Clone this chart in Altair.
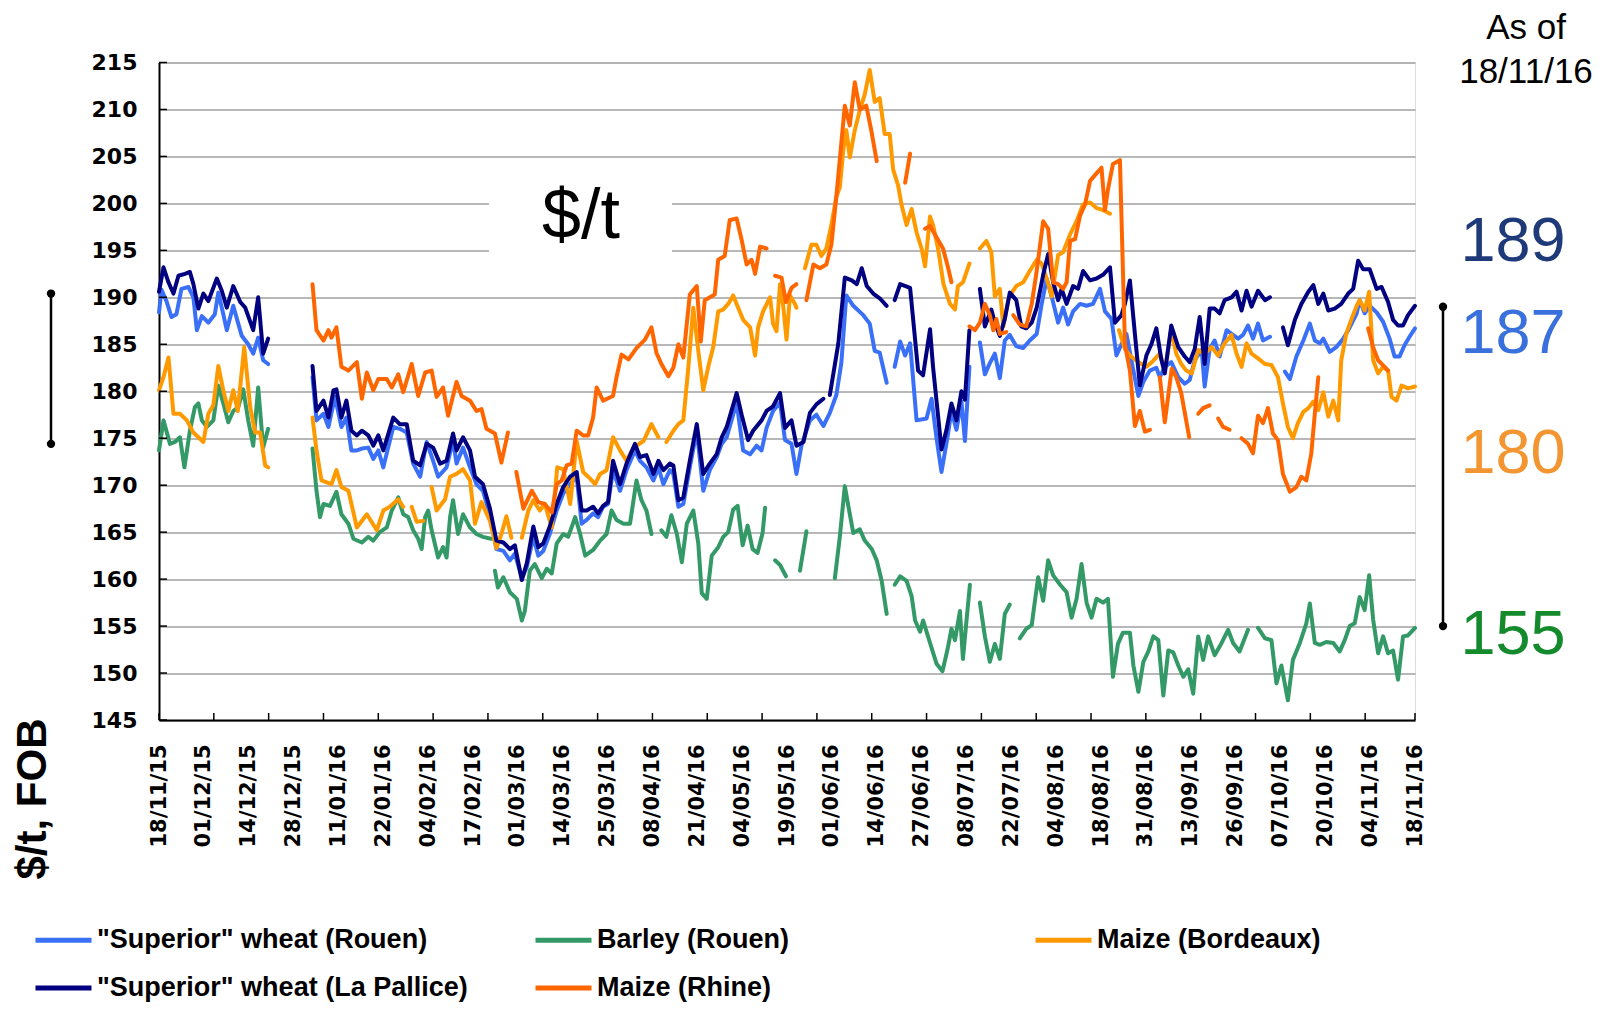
import altair as alt
import pandas as pd

DATES = ["18/11/15", "01/12/15", "14/12/15", "28/12/15", "11/01/16", "22/01/16", "04/02/16",
         "17/02/16", "01/03/16", "14/03/16", "25/03/16", "08/04/16", "21/04/16", "04/05/16",
         "19/05/16", "01/06/16", "14/06/16", "27/06/16", "08/07/16", "22/07/16", "04/08/16",
         "18/08/16", "31/08/16", "13/09/16", "26/09/16", "07/10/16", "20/10/16", "04/11/16",
         "18/11/16"]

# legend lays out column by column (2 rows): this order gives the reference rows
LEGEND_ORDER = ['"Superior" wheat (Rouen)', '"Superior" wheat (La Pallice)', 'Barley (Rouen)',
                'Maize (Rhine)', 'Maize (Bordeaux)']
LEGEND_COLORS = ['#3a6ff7', '#000080', '#339966', '#ff6600', '#ff9900']
# drawing order (later on top)
DRAW_ORDER = ['"Superior" wheat (Rouen)', 'Barley (Rouen)', 'Maize (Bordeaux)',
              '"Superior" wheat (La Pallice)', 'Maize (Rhine)']

# (trading-day index, $/t) ; None = gap in the series
ROUEN = [
    (0, 188.4), (0.5, 190.8), (1.5, 189.6), (2.5, 187.9), (3.5, 188.2), (4.5, 190.9), (5.9, 191.1), (6.9, 190.0),
    (7.6, 186.5), (8.6, 188.0), (9.9, 187.3), (11.2, 188.2), (11.9, 190.5), (12.9, 188.2), (13.6, 186.5),
    (14.9, 189.1), (15.9, 187.2), (16.6, 185.9), (17.9, 185.0), (18.9, 184.0), (19.9, 185.7), (20.9, 183.3),
    (21.9, 182.9),
    None,
    (30.8, 181.5), (31.6, 176.9), (33, 177.6), (34, 176.2), (35.3, 179.4), (36.6, 176.2), (37.6, 177.2),
    (38.6, 173.7), (39.7, 173.7), (40.7, 173.9), (42, 174.0), (43, 172.8), (44, 173.7), (45, 171.9), (47, 176.2),
    (48.3, 176.0), (49.7, 175.6), (51, 172.3), (52.4, 170.9), (53.7, 174.6), (55, 172.6), (56, 170.9),
    (57.7, 171.9), (59, 174.8), (59.7, 172.3), (61, 174.0), (62.4, 171.9), (63.7, 170.1), (65, 169.4),
    (66.4, 166.8), (67.7, 163.2), (69.1, 163.0), (70.4, 162.0), (71.4, 162.7), (72.8, 160.1), (73.8, 161.3),
    (75.1, 164.5), (76.1, 162.5), (77.1, 163.0), (78.4, 164.8), (79.8, 167.3), (81.1, 169.1), (82.5, 170.1),
    (83.8, 170.9), (84.8, 165.9), (85.8, 166.3), (87.1, 167.0), (88.1, 166.6), (89.1, 167.7), (90.1, 168.0),
    (91.1, 171.6), (92.5, 169.4), (93.8, 171.6), (95.5, 173.7), (96.5, 172.6), (97.8, 171.9), (99.2, 170.5),
    (100.2, 171.9), (101.2, 170.1), (102.5, 171.6), (103.2, 171.2), (104.2, 167.7), (105.2, 168.0),
    (106.5, 171.9), (107.9, 175.8), (109.2, 169.4), (110.5, 171.6), (111.9, 173.0), (112.9, 174.4),
    (113.9, 175.1), (115.9, 178.8), (117.2, 173.7), (118.6, 173.3), (119.9, 174.2), (120.9, 173.7),
    (121.9, 176.1), (123.2, 177.9), (124.6, 178.8), (125.6, 174.8), (126.9, 174.4), (127.9, 171.2),
    (128.9, 174.2), (130.6, 176.9), (131.9, 177.5), (133.3, 176.3), (134.6, 177.7), (135.9, 179.6),
    (136.9, 183.0), (137.9, 190.2), (139.3, 189.1), (141.3, 188.1), (142.6, 187.2), (143.6, 184.3),
    (144.6, 184.1), (146, 180.9),
    None,
    (147.6, 182.6), (148.7, 185.3), (149.7, 183.8), (150.7, 185.1), (152, 176.9), (154, 177.1), (155, 179.2),
    (156, 175.0), (157, 171.4), (158.2, 175.1), (159, 177.9), (160, 175.9), (161, 178.9), (161.7, 174.7),
    (162.6, 182.6),
    None,
    (164.7, 185.2), (165.7, 181.8), (166.7, 183.0), (167.7, 184.0), (168.7, 181.4), (169.7, 185.4),
    (170.7, 186.0), (172, 184.8), (173.4, 184.6), (174.7, 185.4), (176.1, 186.1), (177.1, 189.3),
    (178.1, 192.0), (179.1, 190.1), (180.4, 187.3), (181.4, 188.9), (182.4, 187.1), (183.4, 188.5),
    (184.8, 189.3), (186.1, 189.1), (187.4, 189.3), (188.8, 190.9), (189.8, 188.5), (191.1, 187.7),
    (192.1, 183.8), (193.1, 185.0), (194.1, 186.1), (195.5, 182.2), (196.5, 179.5), (197.5, 181.0),
    (198.8, 182.2), (200.1, 182.5), (200.8, 181.5), (201.8, 182.6), (203.1, 183.1), (204.5, 181.5),
    (205.8, 180.8), (206.8, 181.2), (207.8, 183.3), (209.2, 184.4), (209.8, 180.5), (210.8, 184.5),
    (211.8, 185.4), (212.8, 183.7), (214.2, 186.5), (215.2, 186.1), (216.5, 185.6), (217.5, 186.0),
    (218.5, 187.0), (219.5, 185.6), (220.5, 187.2), (221.5, 185.4), (222.9, 185.8),
    None,
    (225.9, 182.1), (226.9, 181.3), (228.2, 183.7), (229.6, 185.4), (230.9, 187.2), (231.9, 185.4),
    (232.9, 185.1), (233.6, 185.6), (234.9, 184.2), (236.2, 184.7), (237.6, 185.6), (238.9, 186.8),
    (240.3, 188.3), (240.9, 189.7), (241.9, 188.3), (242.9, 189.1), (244.3, 188.4), (245.6, 187.4),
    (246.9, 185.6), (247.9, 183.7), (248.9, 183.7), (249.9, 184.9), (250.9, 185.8), (252, 186.7),
]

PALLICE = [
    (0, 190.6), (0.9, 193.2), (1.9, 191.6), (2.9, 190.4), (3.9, 192.3), (5.2, 192.5), (6.2, 192.7), (6.9, 191.4),
    (7.9, 188.8), (8.9, 190.4), (9.9, 189.6), (11.6, 192.0), (12.6, 190.7), (13.6, 188.9), (14.9, 191.2),
    (16.3, 189.5), (17.3, 188.9), (18.9, 186.5), (19.9, 190.0), (20.9, 184.0), (21.9, 185.6),
    None,
    (30.8, 182.7), (31.6, 177.9), (33, 179.0), (34, 177.2), (35, 180.1), (35.6, 180.2), (36.6, 177.2),
    (37.6, 179.0), (38.6, 175.8), (39.7, 175.3), (40.7, 175.8), (42, 175.3), (43, 174.2), (44, 175.3),
    (45, 173.7), (47, 177.2), (48.3, 176.5), (49.7, 176.5), (51, 172.6), (52.4, 172.1), (53.7, 174.4),
    (55, 174.0), (56.4, 172.3), (57.7, 172.6), (59, 175.5), (59.7, 173.7), (61, 175.1), (62.4, 173.7),
    (63.4, 170.9), (65, 170.1), (66.4, 167.5), (67.7, 164.1), (69.1, 163.9), (70.4, 163.2), (71.4, 163.6),
    (72.8, 159.9), (73.8, 161.7), (75.1, 165.6), (76.1, 163.4), (77.1, 163.8), (78.4, 165.6), (79.8, 168.0),
    (81.1, 169.8), (82.5, 170.9), (83.8, 171.4), (84.8, 167.3), (85.8, 167.3), (87.1, 167.7), (88.1, 167.0),
    (89.1, 167.8), (90.1, 168.2), (91.1, 172.6), (92.5, 170.1), (93.8, 172.3), (95.5, 174.4), (96.5, 173.0),
    (97.8, 173.2), (99.2, 171.2), (100.2, 172.6), (101.2, 171.6), (102.5, 172.3), (103.2, 172.1),
    (104.2, 168.4), (105.2, 168.7), (106.5, 172.6), (107.9, 176.5), (109.2, 171.2), (110.5, 172.3),
    (111.9, 173.3), (112.9, 175.1), (113.9, 176.2), (115.9, 179.8), (116.9, 177.5), (118.2, 174.8),
    (119.2, 175.8), (120.9, 176.9), (121.9, 177.9), (123.2, 178.4), (124.6, 179.8), (125.6, 176.1),
    (126.9, 176.9), (127.9, 174.2), (129.3, 174.6), (130.6, 177.7), (131.9, 178.6), (133.3, 179.2),
    None,
    (134.6, 179.6), (136.3, 185.1), (137.6, 192.1), (139, 191.8), (140, 191.4), (141, 193.1), (142, 191.2),
    (143.3, 190.4), (144.6, 189.9), (146, 189.1),
    None,
    (147.6, 189.7), (148.7, 191.4), (150.7, 191.0), (152.3, 182.2), (153.3, 181.7), (154.7, 186.6),
    (155.3, 182.6), (157, 173.8), (158, 175.9), (159, 178.7), (160, 176.9), (161, 180.0), (161.7, 179.1),
    (162.6, 186.5),
    None,
    (164.7, 190.9), (165.7, 186.9), (167, 188.7), (167.7, 187.3), (168.7, 185.9), (169.7, 187.7),
    (170.7, 190.5), (172, 189.7), (173, 186.9), (174, 186.7), (175.1, 187.3), (176.1, 188.9), (177.4, 192.4),
    (178.4, 194.6), (179.4, 191.6), (180.4, 189.7), (181.1, 190.9), (182.1, 189.3), (183.4, 191.2),
    (184.4, 190.9), (185.4, 192.8), (186.8, 191.8), (188.1, 192.0), (189.4, 192.4), (190.8, 193.2),
    (191.8, 187.3), (193.1, 188.1), (193.8, 189.3), (194.8, 191.8), (195.8, 186.1), (196.8, 180.6),
    (198.1, 183.8), (199.1, 185.0), (200.1, 186.7), (201.1, 183.4), (201.8, 181.9), (203.1, 187.0),
    (204.5, 184.7), (205.8, 183.7), (206.8, 183.1), (207.8, 184.5), (208.8, 187.9), (209.8, 182.9),
    (210.8, 188.8), (211.8, 188.8), (212.8, 188.3), (213.8, 189.7), (215.2, 190.0), (216.2, 190.6),
    (217.2, 188.6), (218.2, 190.7), (219.2, 189.0), (220.5, 190.7), (221.9, 189.7), (222.9, 190.0),
    None,
    (225.5, 186.8), (226.5, 184.9), (227.9, 187.6), (229.2, 189.3), (230.6, 190.6), (231.6, 191.3),
    (232.6, 189.3), (233.6, 190.4), (234.6, 188.6), (235.9, 188.8), (237.2, 189.3), (238.6, 190.4),
    (239.6, 190.9), (240.6, 193.9), (241.6, 193.0), (242.9, 193.0), (244.3, 190.9), (245.3, 191.1),
    (246.6, 189.5), (247.6, 187.6), (248.6, 187.0), (249.6, 187.0), (250.6, 188.1), (252, 189.1),
]

BARLEY = [
    (0, 173.7), (0.9, 176.9), (2.2, 174.4), (3.2, 174.6), (4.2, 175.1), (5.1, 171.9), (6.2, 175.8), (7.2, 178.3),
    (7.9, 178.7), (8.6, 176.9), (9.6, 176.2), (10.9, 176.9), (11.9, 180.6), (12.9, 178.7), (13.9, 176.7),
    (14.9, 177.9), (15.9, 178.3), (16.9, 180.2), (17.9, 176.9), (18.9, 174.2), (19.9, 180.4), (20.9, 174.0),
    (21.9, 176.0),
    None,
    (30.8, 173.9), (31.6, 169.4), (32.3, 166.6), (33, 168.0), (34.3, 167.8), (35.6, 169.3), (36.6, 166.9),
    (38, 165.9), (39, 164.3), (40.7, 163.9), (42, 164.5), (43, 164.1), (44.3, 165.0), (45.7, 165.5),
    (46.7, 167.3), (48, 168.7), (49, 166.9), (50, 166.6), (51, 165.2), (52, 164.3), (52.7, 163.2),
    (53.4, 166.6), (54, 167.3), (54.7, 165.2), (56, 162.3), (57, 163.4), (57.7, 162.3), (58.4, 166.6),
    (59, 168.4), (60, 164.8), (61, 166.9), (62.4, 165.5), (63.7, 164.8), (65, 164.5), (66.6, 164.3),
    None,
    (67.4, 160.9), (68, 159.1), (69.1, 160.2), (70.4, 158.6), (71.8, 157.9), (72.8, 155.6), (73.4, 156.6),
    (74.4, 160.9), (75.4, 161.6), (76.8, 160.1), (77.8, 161.1), (78.8, 160.6), (79.8, 163.8), (81.1, 164.8),
    (82.1, 164.5), (83.5, 166.6), (84.5, 164.8), (85.5, 162.5), (87.1, 163.1), (88.5, 164.1), (89.8, 164.8),
    (90.8, 167.3), (91.8, 166.3), (93.2, 165.9), (94.5, 165.9), (95.8, 170.5), (96.8, 168.4), (97.8, 167.3),
    (98.8, 164.8),
    None,
    (100.8, 165.2), (101.8, 164.5), (102.8, 166.8), (103.9, 164.8), (104.9, 161.8), (105.9, 165.9),
    (107.2, 167.3), (108.2, 163.8), (108.9, 158.5), (109.9, 157.9), (110.9, 162.5), (112.2, 163.4),
    (113.2, 164.5), (114.2, 165.0), (115.2, 167.4), (116.1, 167.8), (117.1, 163.6), (118.1, 165.7),
    (119.1, 163.2), (120.1, 162.8), (121.1, 164.9), (121.6, 167.6),
    None,
    (123.6, 162.0), (124.6, 161.5), (125.8, 160.3),
    None,
    (128.6, 160.9), (129.9, 165.1),
    None,
    (135.6, 160.1), (136.6, 164.5), (137.6, 169.9), (138.3, 167.8), (139.3, 164.9), (140.6, 165.3),
    (141.6, 164.1), (143, 163.2), (144, 162.0), (145, 159.8), (146, 156.3),
    None,
    (147.6, 159.4), (148.7, 160.3), (150, 159.8), (151, 158.2), (151.7, 155.6), (152.7, 154.4),
    (153.3, 155.6), (154.7, 153.2), (156, 151.0), (157.2, 150.2), (158.2, 152.5), (159, 154.7),
    (159.7, 153.5), (160.7, 156.6), (161.3, 151.5), (162, 155.5), (162.7, 159.4),
    None,
    (164.7, 157.5), (165.7, 153.9), (166.7, 151.2), (167.7, 153.1), (168.7, 151.5), (169.7, 156.3),
    (170.7, 157.3),
    None,
    (172.7, 153.7), (174, 154.7), (175.1, 155.1), (175.7, 157.5), (176.4, 160.2), (177.4, 157.7),
    (178.4, 162.0), (179.4, 160.4), (180.8, 159.4), (182.1, 158.6), (183.1, 155.9), (184.1, 157.9),
    (185.1, 161.6), (186.1, 157.5), (187.1, 155.9), (188.1, 157.9), (189.4, 157.5), (190.4, 157.9),
    (191.4, 149.6), (192.4, 153.1), (193.4, 154.3), (194.8, 154.3), (195.5, 150.8), (196.5, 148.0),
    (197.5, 151.2), (198.5, 152.3), (199.5, 153.9), (200.5, 153.5), (201.5, 147.6), (202.5, 152.4),
    (203.5, 152.2), (204.5, 150.8), (205.5, 149.6), (206.5, 150.4), (207.5, 147.8), (208.5, 153.9),
    (209.5, 151.4), (210.5, 153.9), (211.8, 151.9), (213.2, 153.2), (214.5, 154.6), (215.5, 153.2),
    (216.8, 152.3), (218.5, 154.6),
    None,
    (220.5, 154.8), (221.9, 153.7), (223.2, 153.5), (224.2, 148.9), (225.2, 150.8), (226.5, 147.1),
    (227.5, 151.4), (228.9, 153.2), (230.2, 155.3), (230.9, 157.4), (231.9, 153.2), (232.9, 153.0),
    (234.2, 153.3), (235.6, 153.2), (236.9, 152.3), (237.9, 153.5), (238.9, 155.0), (239.9, 155.3),
    (240.9, 158.1), (241.9, 156.7), (242.8, 160.4), (243.6, 155.7), (244.6, 152.1), (245.6, 153.9),
    (246.6, 152.1), (247.6, 152.4), (248.6, 149.3), (249.6, 153.9), (250.6, 154.0), (252, 154.8),
]

BORDEAUX = [
    (0, 180.1), (0.9, 181.5), (1.9, 183.6), (2.9, 177.6), (4.2, 177.6), (5.6, 176.9), (6.9, 175.6), (7.9, 175.1),
    (8.9, 174.6), (9.9, 177.6), (10.9, 178.5), (11.9, 182.7), (12.9, 180.1), (13.9, 177.9), (14.9, 180.1),
    (15.8, 177.9), (17.1, 184.7), (18.3, 178.3), (19.3, 175.6), (20.3, 175.6), (21.3, 172.1), (21.9, 171.9),
    None,
    (30.8, 177.2), (31.6, 173.7), (32.6, 170.5), (34.6, 170.1), (35.6, 171.6), (36.6, 169.8), (38, 169.4),
    (39.7, 165.5), (41.7, 166.9), (43.7, 165.2), (45, 167.3), (46.3, 167.7), (48, 168.5), (49, 167.7),
    None,
    (50.7, 167.7), (51.7, 166.1), (53, 166.2),
    None,
    (54.7, 169.8), (55.7, 167.3), (57.4, 168.5), (58.4, 170.9), (59.7, 171.2), (61, 171.7), (62.4, 170.5),
    (63.4, 165.9), (64.7, 168.2), (66.4, 166.2), (67.7, 163.3), (68.7, 164.8), (69.7, 166.7), (70.7, 164.4),
    None,
    (72.8, 164.4), (74.1, 167.3), (75.1, 168.4), (76.4, 167.3), (77.4, 168.0), (78.8, 165.5), (79.9, 171.9),
    (81.1, 171.7), (82.5, 168.0), (83.8, 174.7), (85.1, 171.4), (86.5, 170.7), (87.5, 170.1), (88.5, 171.2),
    (89.8, 171.6), (91.1, 175.1), (92.5, 173.7), (93.8, 172.6), (95.2, 174.0), (97.2, 174.7), (98.8, 176.5),
    (100.2, 175.1),
    None,
    (101.8, 174.6), (103.2, 175.8), (104.2, 176.5), (105.2, 176.9), (106.2, 182.5), (107.2, 188.9),
    (108.2, 184.3), (109.2, 180.1), (110.2, 182.6), (111.2, 184.7), (112.2, 188.5), (113.2, 188.7),
    (114.2, 189.3), (115.2, 190.2), (116.2, 188.9), (117.2, 187.6), (118.6, 186.8), (119.6, 183.8),
    (120.2, 186.8), (121.2, 188.5), (122.6, 190.0), (123.2, 187.2), (123.9, 186.4), (124.6, 191.4),
    (125.2, 189.3), (125.9, 185.5), (126.6, 190.2), (127.6, 189.3), (127.9, 188.9),
    None,
    (129.6, 193.1), (130.9, 195.6), (131.9, 195.6), (132.9, 194.4), (133.9, 195.2), (134.9, 197.7),
    (135.9, 200.7), (136.6, 201.7), (137.3, 205.7), (137.9, 207.8), (138.6, 204.9), (139.6, 207.8),
    (140.6, 209.9), (141.6, 211.6), (142.6, 214.2), (143.6, 210.8), (144.6, 211.2), (145.6, 207.4),
    (146.6, 207.4), (147.3, 203.6), (148.3, 201.9), (149, 199.8), (150, 197.7), (151, 199.4), (152, 196.9),
    (153, 195.2), (153.7, 193.3), (154.7, 198.6), (155.3, 197.7), (156.3, 195.2), (157.4, 191.4),
    (158.7, 189.3), (159.7, 188.7), (160.3, 191.2), (161.3, 191.6), (162.6, 193.6),
    None,
    (164.7, 195.2), (166, 196.0), (167, 194.8), (167.7, 190.1), (168.7, 190.9), (169.4, 186.9),
    (170.4, 189.7), (171.1, 190.5), (172, 191.2), (173.4, 191.6), (174.7, 192.8), (176.1, 194.0),
    (177.1, 193.6), (178.1, 192.0), (179.1, 190.1), (180.4, 194.5), (181.4, 194.8), (182.8, 196.7),
    (184.1, 198.1), (185.4, 199.9), (186.8, 200.1), (188.1, 199.5), (189.4, 199.3), (190.8, 198.9),
    None,
    (192.6, 186.5), (193.8, 184.5), (194.8, 183.8), (196.8, 183.0), (198.1, 182.6), (199.4, 183.2),
    (200.8, 184.0), (201.8, 182.2), (203.1, 186.5), (204.1, 184.0), (205.1, 182.9), (206.1, 182.2),
    (207.2, 181.9), (208.5, 184.4), (209.8, 184.0), (211.2, 184.7), (212.5, 183.8), (213.8, 185.1),
    (215.2, 186.0), (216.2, 184.0), (217.2, 182.6), (218.2, 185.1), (219.2, 184.0), (220.5, 183.5),
    (221.9, 182.9), (223.2, 182.8), (224.5, 181.5), (225.5, 178.7), (226.5, 176.2), (227.5, 175.0),
    (228.5, 176.6), (229.6, 177.8), (230.6, 178.2), (231.6, 178.9), (232.6, 178.0), (233.6, 179.9),
    (234.6, 177.3), (235.6, 179.0), (236.6, 176.9), (237.2, 183.3), (238.2, 186.1), (239.2, 187.6),
    (240.3, 189.1), (240.9, 189.7), (241.9, 188.6), (242.8, 190.6), (243.6, 183.3), (244.6, 181.9),
    (245.6, 182.6), (246.6, 182.2), (247.3, 179.4), (248.3, 179.0), (249.3, 180.6), (250.6, 180.3),
    (252, 180.5),
]

RHINE = [
    (30.8, 191.4), (31.6, 186.5), (33, 185.4), (34, 186.5), (34.6, 185.7), (35.6, 186.8), (36.6, 182.6),
    (38, 182.2), (39.7, 183.1), (40.7, 179.2), (41.7, 182.0), (43, 180.1), (44, 181.3), (45.7, 181.3),
    (46.7, 180.4), (48, 181.8), (49, 179.9), (50.7, 182.9), (52, 179.5), (53.4, 182.0), (54.7, 182.2),
    (55.7, 179.4), (57, 180.4), (58, 177.4), (59.7, 181.0), (60.7, 179.5), (62.4, 179.0), (63.7, 177.9),
    (64.7, 178.1), (65.7, 176.0), (67.4, 175.5), (68.7, 172.4), (70, 175.6),
    None,
    (71.7, 171.4), (73.1, 167.5), (74.8, 169.4), (76.1, 168.2), (77.4, 168.0), (78.8, 167.1), (79.8, 170.1),
    (80.8, 170.5), (81.8, 172.1), (82.8, 172.3), (83.8, 175.8), (85.1, 175.3), (86.1, 175.3), (87.1, 177.2),
    (87.8, 180.4), (89.1, 179.0), (91.1, 179.5), (91.8, 181.5), (92.8, 183.9), (94.2, 183.4), (95.8, 184.6),
    (97.5, 185.5), (98.8, 186.8), (99.8, 184.1), (100.8, 182.9), (102.2, 181.6), (103.2, 182.5),
    (104.2, 185.0), (105.2, 183.6), (106.5, 190.3), (107.9, 191.2), (108.7, 185.3), (109.5, 189.7),
    (111.5, 190.3), (112.2, 194.0), (113.5, 194.4), (114.5, 198.2), (115.9, 198.4), (116.9, 196.1),
    (117.9, 193.5), (118.9, 194.0), (119.6, 192.5), (120.6, 195.4), (121.9, 195.2),
    None,
    (123.6, 192.3), (124.9, 192.1), (125.8, 189.5), (126.9, 191.0), (127.9, 191.4),
    None,
    (129.9, 189.7), (131.3, 193.5), (132.6, 193.1), (133.9, 193.5), (134.9, 195.6), (135.9, 200.7),
    (137.6, 210.4), (138.6, 208.3), (139.6, 212.9), (140.6, 210.0), (141.9, 210.4), (142.9, 207.8),
    (144, 204.5),
    None,
    (149.7, 202.2), (150.7, 205.3),
    None,
    (153.7, 197.3), (154.7, 197.6), (156, 196.4), (157.3, 195.2), (158.3, 193.2), (159, 191.6),
    None,
    (162.6, 186.9), (163.7, 186.5), (164.7, 187.3), (165.7, 189.3), (166.7, 188.1), (167.4, 186.5),
    (168, 187.7), (168.7, 186.1), (170, 186.3),
    None,
    (171.4, 188.1), (172.7, 187.1), (174, 186.9), (175.1, 189.3), (176.1, 192.8), (177.4, 198.1),
    (178.4, 197.3), (179.4, 191.6), (180.4, 191.4), (181.4, 190.9), (182.1, 191.6), (182.8, 196.0),
    (183.8, 196.2), (184.8, 198.7), (185.8, 199.9), (186.8, 202.4), (188.1, 203.2), (189.1, 203.8),
    (189.8, 199.3), (190.4, 201.5), (191.4, 204.2), (192.8, 204.6), (193.8, 185.0), (194.8, 182.2),
    (195.8, 176.3), (196.8, 177.9), (197.8, 175.7), (198.8, 175.9),
    None,
    (200.8, 181.5), (201.8, 176.7), (203.2, 182.4), (204.1, 181.5), (205.1, 179.8), (206.7, 175.1),
    None,
    (208.5, 177.6), (209.5, 178.2), (210.8, 178.5),
    None,
    (212.5, 177.1), (213.5, 176.2), (214.8, 175.9),
    None,
    (217.2, 175.0), (218.5, 174.4), (219.5, 173.4), (220.5, 177.4), (221.5, 176.6), (222.5, 178.2),
    (223.5, 175.5), (224.5, 174.8), (225.5, 171.2), (226.9, 169.3), (228.2, 169.8), (229.2, 170.9),
    (230.2, 170.5), (231.2, 173.4), (231.9, 177.6), (232.6, 181.5),
    None,
    (242.6, 186.7), (243.6, 184.7), (244.6, 183.3), (245.9, 182.6), (246.6, 182.2),
]

LATEST = ["189", "187", "180", "155"]
LATEST_COLORS = ["#1f3a78", "#3a70dc", "#f39530", "#138a2c"]
Y_TICKS = list(range(145, 216, 5))
X_LABEL_POS = list(range(0, 253, 9))
X_TICK_POS = list(range(0, 243, 11)) + [252]

# ---------------- build long table ----------------
SERIES_POINTS = {
    '"Superior" wheat (Rouen)': ROUEN,
    'Barley (Rouen)': BARLEY,
    'Maize (Bordeaux)': BORDEAUX,
    '"Superior" wheat (La Pallice)': PALLICE,
    'Maize (Rhine)': RHINE,
}
rows = []
for name in DRAW_ORDER:
    seg = 0
    for p in SERIES_POINTS[name]:
        if p is None:
            seg += 1
            continue
        rows.append({"series": name, "idx": p[0], "value": p[1], "seg": f"{name}|{seg}"})
df = pd.DataFrame(rows)

W, H = 1256, 657.5
LBL_FONT = "DejaVu Sans"
FONT = "Liberation Sans"

label_expr = "[" + ",".join(f"'{d}'" for d in DATES) + "][round(datum.value / 9)]"

x_enc = alt.X("idx:Q",
              scale=alt.Scale(domain=[0, 252], nice=False, zero=False),
              axis=alt.Axis(values=X_LABEL_POS, labelExpr=label_expr, labelAngle=270,
                            ticks=False, grid=False, domainColor="black", domainWidth=2,
                            labelFont=LBL_FONT, labelFontWeight="bold", labelFontSize=21,
                            labelColor="black", labelPadding=24, labelFlush=False,
                            labelOverlap=False, labelBound=False, title=""))
y_enc = alt.Y("value:Q",
              scale=alt.Scale(domain=[145, 215], nice=False, zero=False),
              axis=alt.Axis(values=Y_TICKS, grid=True, gridColor="#a0a0a0", gridWidth=1.5,
                            ticks=False, domainColor="black", domainWidth=2,
                            labelFont=LBL_FONT, labelFontWeight="bold", labelFontSize=22,
                            labelColor="black", labelPadding=22, title=""))
color_enc = alt.Color("series:N",
                      scale=alt.Scale(domain=LEGEND_ORDER, range=LEGEND_COLORS),
                      legend=alt.Legend(title=None, orient="none", legendX=-126, legendY=847,
                                        columns=3, gridAlign="all", columnPadding=57,
                                        rowPadding=4, symbolType="stroke", symbolSize=3136,
                                        symbolStrokeWidth=5, labelFont=FONT, labelFontSize=27,
                                        labelFontWeight="bold", labelColor="black",
                                        labelOffset=3, labelLimit=800, padding=0))

# white box behind "$/t"
box = alt.Chart(pd.DataFrame({"value": [202.5], "v2": [192.5]})).mark_rect(color="white").encode(
    x=alt.value(330), x2=alt.value(513), y=y_enc, y2="v2:Q")

lines = []
for name in DRAW_ORDER:
    lines.append(
        alt.Chart(df).transform_filter(alt.datum.series == name)
        .mark_line(strokeWidth=4, strokeJoin="round", strokeCap="round")
        .encode(x=x_enc, y=y_enc, color=color_enc, detail="seg:N")
    )

ytick = alt.Chart(pd.DataFrame({"value": Y_TICKS})).mark_rule(color="black", strokeWidth=1.5).encode(
    y=y_enc, x=alt.value(0), x2=alt.value(8))
xtick = alt.Chart(pd.DataFrame({"idx": X_TICK_POS})).mark_rule(color="black", strokeWidth=1.5).encode(
    x=x_enc, y=alt.value(H - 7), y2=alt.value(H))


def text_layer(txt, x, y, size, color="black", weight="normal", angle=0, baseline="alphabetic"):
    return alt.Chart(pd.DataFrame({"t": [txt]})).mark_text(
        font=FONT, fontSize=size, fontWeight=weight, color=color, angle=angle,
        align="center", baseline=baseline).encode(x=alt.value(x), y=alt.value(y), text="t:N")


texts = [
    text_layer("$/t", 422, 175.5, 70),
    text_layer("As of", 1367, -23.5, 35),
    text_layer("18/11/16", 1367, 20.5, 35),
    text_layer("$/t, FOB", -126, 736.5, 42, weight="bold", angle=270, baseline="middle"),
]
for lab, col, yy in zip(LATEST, LATEST_COLORS, [198.5, 290.5, 410.5, 591.5]):
    texts.append(text_layer(lab, 1354, yy, 63, color=col))

# range brackets
r_rule = alt.Chart(pd.DataFrame({"value": [189], "v2": [155]})).mark_rule(color="black", strokeWidth=2.5).encode(
    x=alt.value(1284), y=y_enc, y2="v2:Q")
r_dots = alt.Chart(pd.DataFrame({"value": [189, 155]})).mark_point(filled=True, size=70, color="black", opacity=1).encode(
    x=alt.value(1284), y=y_enc)
l_rule = alt.Chart(pd.DataFrame({"value": [190.4], "v2": [174.4]})).mark_rule(color="black", strokeWidth=2.5).encode(
    x=alt.value(-108), y=y_enc, y2="v2:Q")
l_dots = alt.Chart(pd.DataFrame({"value": [190.4, 174.4]})).mark_point(filled=True, size=70, color="black", opacity=1).encode(
    x=alt.value(-108), y=y_enc)

chart = alt.layer(box, *lines, ytick, xtick, r_rule, r_dots, l_rule, l_dots, *texts).properties(
    width=W, height=H,
    autosize=alt.AutoSizeParams(type="none"),
    padding={"left": 151, "top": 54.5, "right": 185, "bottom": 282},
).configure_view(stroke="transparent").configure(font=FONT, background="white")

chart.save("out.html", embed_options={"renderer": "svg", "actions": False})
